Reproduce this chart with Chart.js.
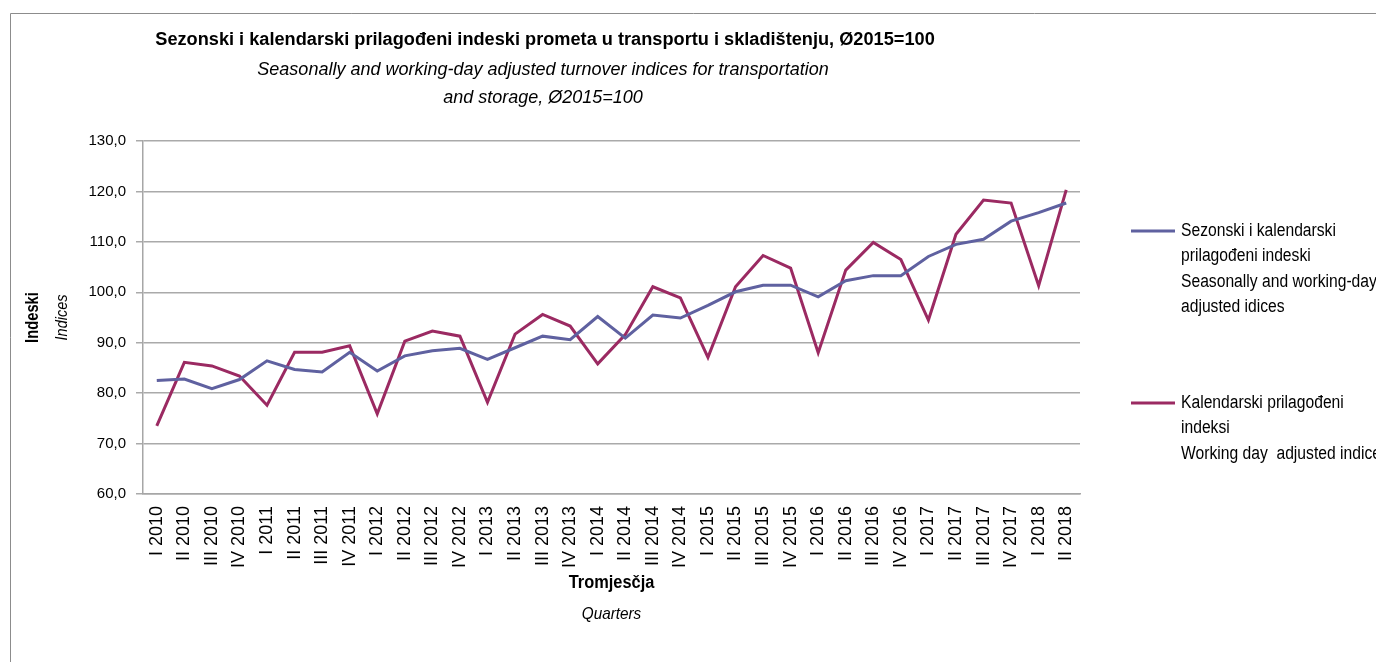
<!DOCTYPE html>
<html>
<head>
<meta charset="utf-8">
<script src="https://cdn.jsdelivr.net/npm/chart.js"></script>
<style>
  html, body { margin: 0; padding: 0; background: #fff; }
</style>
</head>
<body>
<canvas id="myChart" width="1376" height="662"></canvas>
<script>
const quarters = [
  'I 2010', 'II 2010', 'III 2010', 'IV 2010',
  'I 2011', 'II 2011', 'III 2011', 'IV 2011',
  'I 2012', 'II 2012', 'III 2012', 'IV 2012',
  'I 2013', 'II 2013', 'III 2013', 'IV 2013',
  'I 2014', 'II 2014', 'III 2014', 'IV 2014',
  'I 2015', 'II 2015', 'III 2015', 'IV 2015',
  'I 2016', 'II 2016', 'III 2016', 'IV 2016',
  'I 2017', 'II 2017', 'III 2017', 'IV 2017',
  'I 2018', 'II 2018'
];
const seasonalAdj = [
  82.5, 82.8, 80.9, 82.7, 86.4, 84.7, 84.2, 88.1,
  84.4, 87.4, 88.4, 88.9, 86.7, 89.0, 91.3, 90.6,
  95.2, 90.9, 95.5, 94.9, 97.4, 100.1, 101.4, 101.4,
  99.1, 102.3, 103.3, 103.3, 107.1, 109.5, 110.5, 114.1,
  115.8, 117.7
];
const workingDayAdj = [
  73.5, 86.1, 85.4, 83.4, 77.6, 88.1, 88.1, 89.4,
  75.9, 90.3, 92.3, 91.3, 78.2, 91.7, 95.6, 93.3,
  85.8, 91.6, 101.1, 98.9, 87.1, 101.1, 107.3, 104.8,
  88.0, 104.4, 109.9, 106.5, 94.5, 111.5, 118.3, 117.7,
  101.3, 120.3
];
const seriesLabels = [
  ['Sezonski i kalendarski', 'prilagođeni indeski', 'Seasonally and working-day', 'adjusted idices'],
  ['Kalendarski prilagođeni', 'indeksi', 'Working day  adjusted indices']
];
const titleMain = 'Sezonski i kalendarski prilagođeni indeski prometa u transportu i skladištenju, Ø2015=100';
const titleSub = ['Seasonally and working-day adjusted turnover indices for transportation', 'and storage, Ø2015=100'];
const xTitle = ['Tromjesčja', 'Quarters'];
const yTitle = ['Indeski', 'Indices'];
const yMin = 60, yMax = 130, yStep = 10;

const sans = "'Liberation Sans', Arial, sans-serif";
Chart.defaults.font.family = sans;
Chart.defaults.font.size = 16;
Chart.defaults.color = '#000';

// text squeezed horizontally a bit, like the narrow font in the original
function narrowText(c, text, x, y, font, sx, align) {
  c.save();
  c.font = font;
  c.textAlign = align || 'center';
  c.textBaseline = 'middle';
  c.translate(x, y);
  c.scale(sx, 1);
  c.fillText(text, 0, 0);
  c.restore();
}

const decor = {
  id: 'decor',
  afterDraw(chart) {
    const c = chart.ctx;
    const a = chart.chartArea;
    c.save();
    // outer frame
    c.strokeStyle = '#8c8c8c';
    c.lineWidth = 1;
    c.beginPath();
    c.moveTo(10.5, 662);
    c.lineTo(10.5, 13.5);
    c.lineTo(1376, 13.5);
    c.stroke();

    c.fillStyle = '#000';
    narrowText(c, titleMain, 545, 40, 'bold 18px ' + sans, 1.01);
    narrowText(c, titleSub[0], 543, 70, 'italic 18px ' + sans, 1.0);
    narrowText(c, titleSub[1], 543, 98, 'italic 18px ' + sans, 1.0);

    // x axis title
    const cx = (a.left + a.right) / 2;
    narrowText(c, xTitle[0], cx, 583, 'bold 18px ' + sans, 0.91);
    narrowText(c, xTitle[1], cx, 614, 'italic 17px ' + sans, 0.9);

    // y axis title (rotated)
    const cy = (a.top + a.bottom) / 2;
    c.save();
    c.translate(33, cy);
    c.rotate(-Math.PI / 2);
    narrowText(c, yTitle[0], 0, 0, 'bold 18px ' + sans, 0.82);
    c.restore();
    c.save();
    c.translate(62, cy);
    c.rotate(-Math.PI / 2);
    narrowText(c, yTitle[1], 0, 0, 'italic 17px ' + sans, 0.85);
    c.restore();

    // legend
    const tops = [231, 403];
    chart.data.datasets.forEach((ds, i) => {
      const y0 = tops[i];
      c.strokeStyle = ds.borderColor;
      c.lineWidth = 3;
      c.beginPath();
      c.moveTo(1131, y0);
      c.lineTo(1175, y0);
      c.stroke();
      seriesLabels[i].forEach((t, j) =>
        narrowText(c, t, 1181, y0 + j * 25.5, '18px ' + sans, 0.87, 'left'));
    });
    c.restore();
  }
};

const ctx = document.getElementById('myChart');
new Chart(ctx, {
  type: 'line',
  data: {
    labels: quarters,
    datasets: [{
      label: seriesLabels[0].join(' '),
      data: seasonalAdj,
      borderColor: '#5f61a0',
      borderWidth: 3,
      pointRadius: 0,
      tension: 0
    }, {
      label: seriesLabels[1].join(' '),
      data: workingDayAdj,
      borderColor: '#9b2a62',
      borderWidth: 3,
      pointRadius: 0,
      tension: 0
    }]
  },
  options: {
    responsive: false,
    animation: false,
    layout: {
      padding: { top: 141, right: 296, left: 0, bottom: 0 }
    },
    plugins: {
      legend: { display: false },
      title: { display: false },
      tooltip: { enabled: false }
    },
    scales: {
      x: {
        offset: true,
        afterFit(scale) { scale.height = 168; },
        grid: { display: false },
        border: { display: true, color: '#a6a6a6', width: 1.5 },
        ticks: {
          minRotation: 90,
          maxRotation: 90,
          autoSkip: false,
          padding: 4,
          font: { size: 18 }
        }
      },
      y: {
        min: yMin,
        max: yMax,
        afterFit(scale) { scale.width = 143; },
        grid: { color: '#aaaaaa', lineWidth: 1.5, tickLength: 7 },
        border: { display: true, color: '#a6a6a6', width: 1.5 },
        ticks: {
          stepSize: yStep,
          padding: 10,
          font: { size: 15 },
          callback: v => v.toFixed(1).replace('.', ',')
        }
      }
    }
  },
  plugins: [decor]
});
</script>
</body>
</html>
